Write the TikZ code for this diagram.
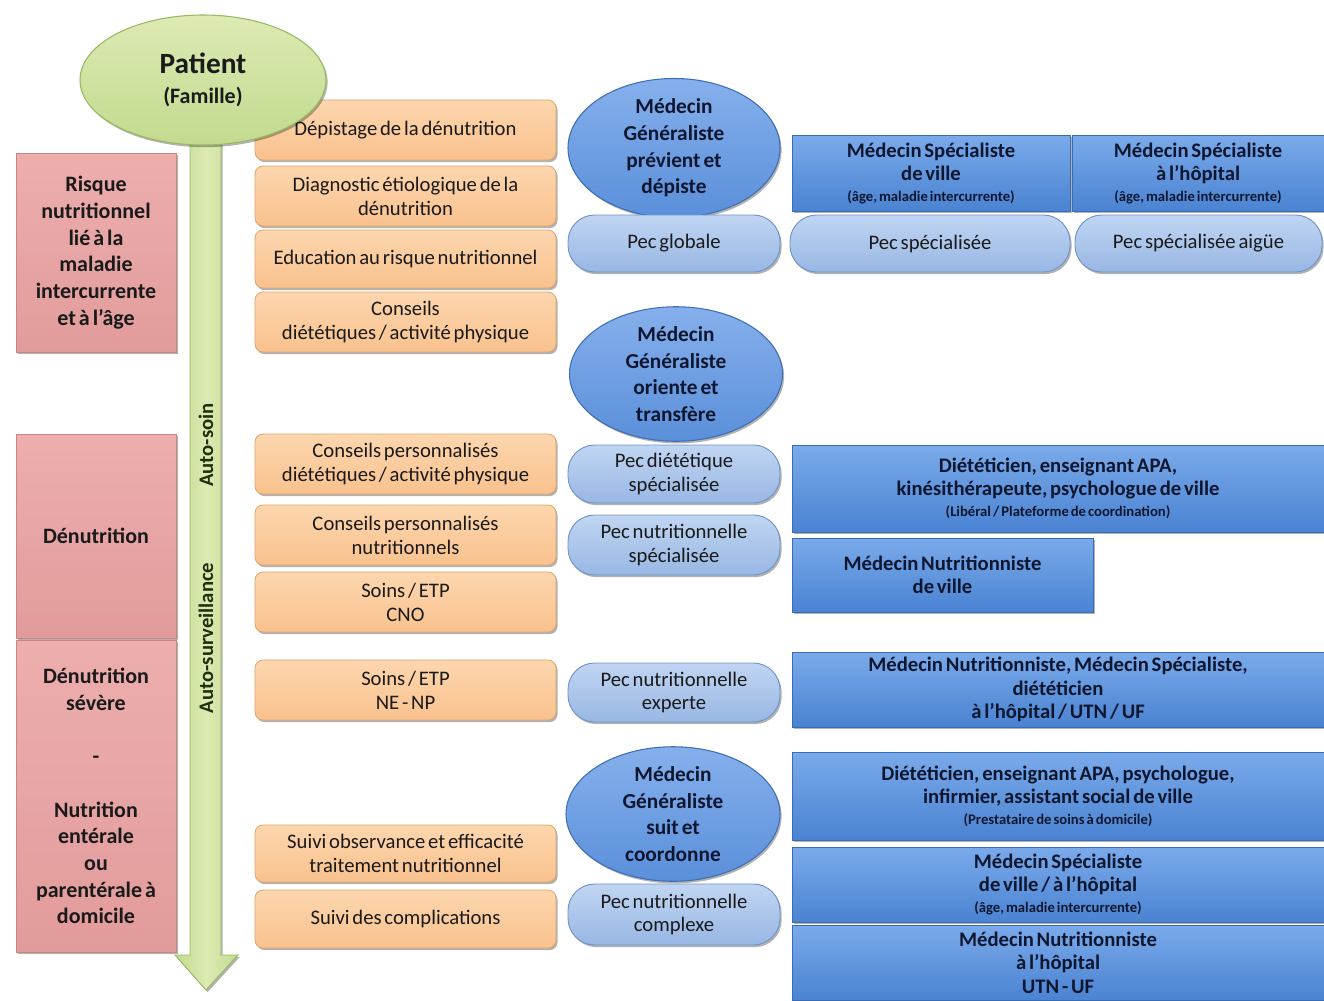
\documentclass[tikz,border=0pt]{standalone}
\usepackage{fontspec}
\setmainfont{Carlito}[WordSpace=0.6]
\usetikzlibrary{shapes.geometric,shadows}
\definecolor{txt}{HTML}{1A1A1A}
\definecolor{navy}{HTML}{0F1730}
\definecolor{pinkL}{HTML}{EDAEAE}
\definecolor{pinkM}{HTML}{E29B9B}
\definecolor{pinkD}{HTML}{C98484}
\definecolor{orgL}{HTML}{FDD6AE}
\definecolor{orgM}{HTML}{F9C28E}
\definecolor{orgD}{HTML}{DDA36C}
\definecolor{cirL}{HTML}{86B0EC}
\definecolor{cirM}{HTML}{5A8FDA}
\definecolor{cirD}{HTML}{3F6EB2}
\definecolor{pecL}{HTML}{C0D5F2}
\definecolor{pecM}{HTML}{98B7E4}
\definecolor{pecD}{HTML}{7094C6}
\definecolor{recL}{HTML}{7AAAEA}
\definecolor{recM}{HTML}{4A83D2}
\definecolor{recD}{HTML}{3A6CB4}
\definecolor{grnL}{HTML}{DDEAB4}
\definecolor{grnM}{HTML}{C2DA8E}
\definecolor{grnD}{HTML}{98B860}
\definecolor{grnT}{HTML}{1E300C}
\begin{document}
\begin{tikzpicture}[x=0.75pt,y=-0.75pt,
  wh/.style 2 args={minimum width=#1*0.75pt, minimum height=#2*0.75pt, inner sep=0pt},
  shad/.style={drop shadow={shadow xshift=1.2pt, shadow yshift=-1.6pt, opacity=0.3, fill=black}},
  pinkbox/.style={draw=pinkD, line width=0.6pt, top color=pinkL, bottom color=pinkM, text=txt,
    font=\bfseries\fontsize{16.5}{20}\selectfont, align=center, shad},
  orangebox/.style={rounded corners=6pt, draw=orgD, line width=0.6pt, top color=orgL, bottom color=orgM,
    font=\fontsize{15.5}{18}\selectfont, align=center, text=txt, shad},
  mgbox/.style={ellipse, draw=cirD, line width=0.8pt, top color=cirL, bottom color=cirM,
    font=\bfseries\fontsize{16}{20}\selectfont, align=center, text=navy, shad},
  pecbox/.style={rounded corners=20pt, draw=pecD, line width=0.7pt, top color=pecL, bottom color=pecM,
    font=\fontsize{15.5}{17.5}\selectfont, align=center, text=txt, shad},
  recbox/.style={draw=recD, line width=0.6pt, top color=recL, bottom color=recM,
    font=\bfseries\fontsize{15.5}{17.5}\selectfont, align=center, text=navy, shad},
  vlabel/.style={rotate=90, font=\bfseries\fontsize{15.5}{18}\selectfont, text=grnT}
]
\useasboundingbox (0,0) rectangle (1324,1000);
\newcommand\smalltxt[1]{{\bfseries\fontsize{11}{12}\selectfont #1}}

% green arrow (shaft + head)
\coordinate (tip) at (206,990);
\path[draw=grnD, line width=0.7pt, left color=grnM, right color=grnM, middle color=grnL, shad]
  (190,140) -- (221,140) -- (221,955) -- (238,955) -- (tip) -- (175,955) -- (190,955) -- cycle;
\node[vlabel] (autosoin) at (206,445) {Auto-soin};
\node[vlabel] (autosurv) at (206,638) {Auto-surveillance};

% pink boxes
\node[pinkbox, wh={160}{199}] (pk1) at (96,252.5) {Risque\\nutritionnel\\lié à la\\maladie\\intercurrente\\et à l’âge};
\node[pinkbox, wh={160}{204}] (pk2) at (96,536) {Dénutrition};
\node[pinkbox, wh={160}{312}] (pk3) at (96,796) {Dénutrition\\sévère\\[20pt]-\\[20pt]Nutrition\\entérale\\ou\\parentérale à\\domicile};

% orange boxes
\node[orangebox, wh={301}{60}] (o1) at (405.5,130) {Dépistage de la dénutrition};
\node[orangebox, wh={301}{60}] (o2) at (405.5,196) {Diagnostic étiologique de la\\dénutrition};
\node[orangebox, wh={301}{58}] (o3) at (405.5,259) {Education au risque nutritionnel};
\node[orangebox, wh={301}{60}] (o4) at (405.5,322) {Conseils\\diététiques / activité physique};
\node[orangebox, wh={301}{60}] (o5) at (405.5,464) {Conseils personnalisés\\diététiques / activité physique};
\node[orangebox, wh={301}{60}] (o6) at (405.5,535) {Conseils personnalisés\\nutritionnels};
\node[orangebox, wh={301}{60}] (o7) at (405.5,602) {Soins / ETP\\CNO};
\node[orangebox, wh={301}{60}] (o8) at (405.5,690) {Soins / ETP\\NE - NP};
\node[orangebox, wh={301}{57}] (o9) at (405.5,853.5) {Suivi observance et efficacité\\traitement nutritionnel};
\node[orangebox, wh={301}{58}] (o10) at (405.5,919) {Suivi des complications};

% patient ellipse
\node[ellipse, draw=grnD, line width=0.8pt, top color=grnL, bottom color=grnM, wh={246}{130}, align=center, text=txt, shad] (patient) at (203,80)
  {{\bfseries\fontsize{22}{24}\selectfont Patient}\\[9pt]{\bfseries\fontsize{16.5}{18}\selectfont (Famille)}};

% médecin généraliste circles
\node[mgbox, wh={212}{127}] (mg1) at (674,148) {Médecin\\Généraliste\\prévient et\\dépiste};
\node[mgbox, wh={213}{125}] (mg2) at (676,374) {Médecin\\Généraliste\\oriente et\\transfère};
\node[mgbox, wh={214}{124}] (mg3) at (673,814) {Médecin\\Généraliste\\suit et\\coordonne};

% Pec stadiums
\node[pecbox, wh={212}{57}] (p1) at (674,243.5) {Pec globale};
\node[pecbox, wh={280}{57}] (p2) at (930,243.5) {Pec spécialisée};
\node[pecbox, wh={247}{57}] (p3) at (1198.5,243.5) {Pec spécialisée aigüe};
\node[pecbox, wh={212}{58}] (p4) at (674,474) {Pec diététique\\spécialisée};
\node[pecbox, wh={212}{60}] (p5) at (674,545) {Pec nutritionnelle\\spécialisée};
\node[pecbox, wh={212}{59}] (p6) at (674,692.5) {Pec nutritionnelle\\experte};
\node[pecbox, wh={212}{61}] (p7) at (674,914.5) {Pec nutritionnelle\\complexe};

% blue rectangles
\node[recbox, wh={278}{76}] (b1) at (931,173) {Médecin Spécialiste\\de ville\\[-2pt]\smalltxt{(âge, maladie intercurrente)}};
\node[recbox, wh={252}{76}] (b2) at (1198,173) {Médecin Spécialiste\\à l’hôpital\\[-2pt]\smalltxt{(âge, maladie intercurrente)}};
\node[recbox, wh={532}{87}] (b3) at (1058,488.5) {Diététicien, enseignant APA,\\kinésithérapeute, psychologue de ville\\[-2pt]\smalltxt{(Libéral / Plateforme de coordination)}};
\node[recbox, wh={301}{74}] (b4) at (942.5,575) {Médecin Nutritionniste\\de ville};
\node[recbox, wh={532}{75}] (b5) at (1058,689.5) {Médecin Nutritionniste, Médecin Spécialiste,\\diététicien\\à l’hôpital / UTN / UF};
\node[recbox, wh={532}{88}] (b6) at (1058,796) {Diététicien, enseignant APA, psychologue,\\infirmier, assistant social de ville\\[-2pt]\smalltxt{(Prestataire de soins à domicile)}};
\node[recbox, wh={532}{75}] (b7) at (1058,884.5) {Médecin Spécialiste\\de ville / à l’hôpital\\[-2pt]\smalltxt{(âge, maladie intercurrente)}};
\node[recbox, wh={532}{75}] (b8) at (1058,962.5) {Médecin Nutritionniste\\à l’hôpital\\UTN - UF};
\end{tikzpicture}
\end{document}
